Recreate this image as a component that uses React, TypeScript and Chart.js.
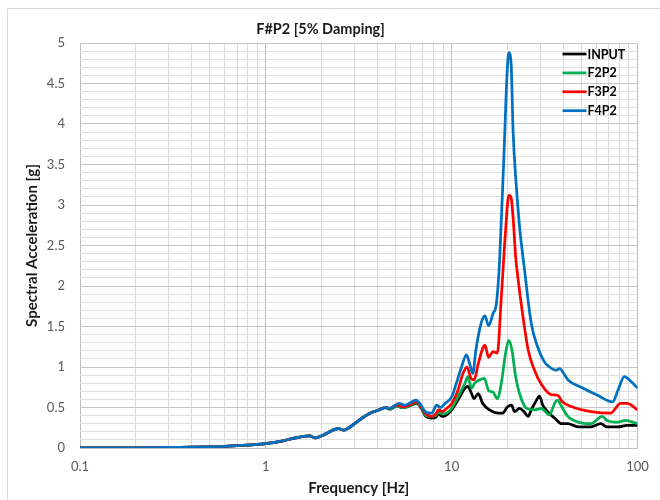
import React, { useEffect, useRef } from "react";
import { Chart, registerables } from "chart.js";

Chart.register(...registerables);

// ---- Data ----
const titleText = "F#P2 [5% Damping]";
const xTitle = "Frequency [Hz]";
const yTitle = "Spectral Acceleration [g]";

// Shared low-frequency part (all records coincide)
const baseFreq = [0.1, 0.15, 0.2, 0.26, 0.32, 0.4, 0.5, 0.6, 0.7, 0.8, 0.9, 1.0, 1.1, 1.22, 1.35, 1.45, 1.6, 1.72, 1.85, 2.0, 2.18, 2.35, 2.47, 2.63, 2.8, 3.04, 3.35, 3.73, 4.05, 4.4];
const baseAcc = [0.001, 0.002, 0.003, 0.005, 0.008, 0.011, 0.015, 0.021, 0.028, 0.036, 0.045, 0.055, 0.066, 0.085, 0.11, 0.125, 0.145, 0.15, 0.125, 0.15, 0.195, 0.23, 0.24, 0.22, 0.25, 0.31, 0.38, 0.44, 0.47, 0.5];

const inputFreq = [4.65, 5.08, 5.4, 5.8, 6.2, 6.5, 6.9, 7.2, 7.8, 8.2, 8.5, 8.9, 9.4, 10, 10.8, 11.5, 12.2, 12.8, 13.2, 13.9, 14.7, 16, 17.8, 18.8, 20, 21, 21.8, 23.2, 24.5, 25.8, 26.8, 28.6, 29.7, 30.9, 32.8, 35.8, 39.1, 42.2, 47.9, 56.2, 63.5, 68.5, 78.4, 88, 100];
const inputAcc = [0.48, 0.52, 0.5, 0.51, 0.54, 0.55, 0.48, 0.4, 0.37, 0.38, 0.42, 0.39, 0.41, 0.47, 0.59, 0.7, 0.76, 0.67, 0.61, 0.67, 0.55, 0.47, 0.43, 0.43, 0.51, 0.53, 0.45, 0.49, 0.45, 0.39, 0.47, 0.59, 0.64, 0.53, 0.45, 0.37, 0.3, 0.3, 0.26, 0.26, 0.3, 0.26, 0.26, 0.28, 0.28];

const f2p2Freq = [4.65, 5.08, 5.4, 5.8, 6.2, 6.5, 6.9, 7.2, 7.8, 8.2, 8.5, 8.9, 9.4, 10, 10.8, 11.8, 12.2, 12.8, 13.3, 14.1, 15, 15.8, 16.7, 17.6, 18.5, 19.5, 20.3, 21.1, 22.1, 23.2, 25.3, 27.9, 30.3, 33.6, 35.8, 37, 39.1, 42.2, 47.9, 56.2, 64.6, 68.5, 78.4, 86, 100];
const f2p2Acc = [0.48, 0.52, 0.5, 0.51, 0.55, 0.56, 0.49, 0.41, 0.39, 0.4, 0.44, 0.42, 0.43, 0.49, 0.63, 0.8, 0.88, 0.74, 0.8, 0.84, 0.86, 0.71, 0.69, 0.61, 0.8, 1.17, 1.33, 1.21, 0.88, 0.67, 0.49, 0.47, 0.49, 0.41, 0.55, 0.59, 0.51, 0.39, 0.32, 0.3, 0.39, 0.34, 0.32, 0.34, 0.3];

const f3p2Freq = [4.65, 5.08, 5.4, 5.8, 6.2, 6.5, 6.9, 7.2, 7.8, 8.2, 8.5, 8.9, 9.2, 10, 10.8, 11.5, 12.1, 12.7, 13.2, 13.9, 14.7, 15.1, 15.8, 16.7, 17.6, 18.5, 19.5, 20.3, 20.9, 21.4, 22.1, 22.7, 24.2, 25.8, 27.9, 30.5, 34.3, 37.3, 39.4, 44.4, 56.2, 71.7, 81.1, 88, 100];
const f3p2Acc = [0.49, 0.53, 0.51, 0.52, 0.56, 0.57, 0.5, 0.43, 0.39, 0.42, 0.47, 0.45, 0.47, 0.55, 0.71, 0.92, 1.0, 0.86, 0.84, 1.04, 1.23, 1.27, 1.12, 1.19, 1.17, 1.86, 2.68, 3.12, 3.09, 2.85, 2.36, 2.11, 1.62, 1.21, 0.96, 0.78, 0.66, 0.65, 0.57, 0.51, 0.45, 0.43, 0.55, 0.55, 0.47];

const f4p2Freq = [4.65, 5.2, 5.6, 6.0, 6.4, 6.8, 7.2, 7.8, 8.3, 8.7, 9.2, 10, 10.6, 11.3, 12.0, 12.5, 13.0, 13.5, 14.4, 15.1, 15.8, 16.7, 17.4, 18.1, 19.1, 19.9, 20.3, 20.9, 21.4, 22.3, 23.2, 24.7, 26.8, 29.1, 31.6, 33.6, 36.6, 38.1, 40.6, 42.3, 49.8, 61, 73.6, 78.4, 85, 92.4, 100];
const f4p2Acc = [0.49, 0.55, 0.53, 0.56, 0.59, 0.54, 0.45, 0.43, 0.53, 0.5, 0.55, 0.63, 0.8, 1.0, 1.15, 1.04, 0.92, 1.21, 1.54, 1.63, 1.51, 1.66, 1.78, 2.3, 3.6, 4.65, 4.88, 4.74, 3.92, 3.22, 2.73, 2.19, 1.54, 1.24, 1.06, 1.0, 0.96, 0.98, 0.9, 0.84, 0.75, 0.65, 0.57, 0.71, 0.88, 0.82, 0.74];

const seriesLabels = ["INPUT", "F2P2", "F3P2", "F4P2"];
const seriesColors = ["#000000", "#00b050", "#ff0000", "#0070c0"];

const xTickValues = [0.1, 0.2, 0.3, 0.4, 0.5, 0.6, 0.7, 0.8, 0.9, 1, 2, 3, 4, 5, 6, 7, 8, 9, 10, 20, 30, 40, 50, 60, 70, 80, 90, 100];
const xLabelValues = [0.1, 1, 10, 100];
const yMin = 0;
const yMax = 5;
const yGridStep = 0.1;
const yLabelStep = 0.5;

const FONT = 'Lato, "Open Sans", "Noto Sans", sans-serif';

function toPoints(fr: number[], ac: number[]) {
  return fr.map((f, i) => ({ x: f, y: ac[i] }));
}

const isYMajor = (v: number) => Math.abs(Math.round(v * 10) % 5) === 0;
const isXMajor = (v: number) => xLabelValues.some((d) => Math.abs(d - v) < 1e-9);

const bgPlugin = {
  id: "bgBorder",
  beforeDraw(chart: any) {
    const ctx = chart.ctx;
    ctx.save();
    ctx.fillStyle = "#ffffff";
    ctx.fillRect(0, 0, chart.width, chart.height);
    ctx.strokeStyle = "#d9d9d9";
    ctx.lineWidth = 1;
    ctx.beginPath();
    ctx.moveTo(7.5, chart.height);
    ctx.lineTo(7.5, 8.5);
    ctx.lineTo(chart.width, 8.5);
    ctx.stroke();
    ctx.restore();
  },
};

const legendPlugin = {
  id: "insideLegend",
  afterDraw(chart: any) {
    const ctx = chart.ctx;
    const area = chart.chartArea;
    ctx.save();
    const x0 = area.right - 75;
    const lineLen = 24;
    const y0 = area.top + 11;
    const gap = 18.9;
    ctx.font = `bold 12.5px ${FONT}`;
    ctx.textBaseline = "middle";
    ctx.textAlign = "left";
    chart.data.datasets.forEach((ds: any, i: number) => {
      const y = y0 + i * gap;
      ctx.strokeStyle = ds.borderColor;
      ctx.lineWidth = 2.75;
      ctx.beginPath();
      ctx.moveTo(x0, y);
      ctx.lineTo(x0 + lineLen, y);
      ctx.stroke();
      ctx.fillStyle = "#000000";
      ctx.fillText(ds.label, x0 + lineLen + 1, y + 0.5);
    });
    ctx.restore();
  },
};

export default function App() {
  const ref = useRef<HTMLCanvasElement | null>(null);

  useEffect(() => {
    if (!ref.current) return;
    const pairs: [number[], number[]][] = [
      [baseFreq.concat(inputFreq), baseAcc.concat(inputAcc)],
      [baseFreq.concat(f2p2Freq), baseAcc.concat(f2p2Acc)],
      [baseFreq.concat(f3p2Freq), baseAcc.concat(f3p2Acc)],
      [baseFreq.concat(f4p2Freq), baseAcc.concat(f4p2Acc)],
    ];
    const datasets = pairs.map((p, i) => ({
      label: seriesLabels[i],
      data: toPoints(p[0], p[1]),
      borderColor: seriesColors[i],
      backgroundColor: seriesColors[i],
      borderWidth: 2.75,
      pointRadius: 0,
      fill: false,
      tension: 0.4,
      cubicInterpolationMode: "monotone" as const,
      order: 3 - i,
    }));

    const chart = new Chart(ref.current, {
      type: "line",
      data: { datasets },
      plugins: [bgPlugin, legendPlugin],
      options: {
        responsive: false,
        animation: false,
        devicePixelRatio: 1,
        layout: { padding: { left: 0, right: 19, top: 0, bottom: 0 } },
        plugins: {
          legend: { display: false },
          tooltip: { enabled: false },
          title: {
            display: true,
            text: titleText,
            color: "#1a1a1a",
            font: { family: FONT, size: 14.5, weight: "bold", lineHeight: 1.2 },
            padding: { top: 20.3, bottom: 5.3 },
          },
        },
        scales: {
          x: {
            type: "logarithmic",
            min: 0.1,
            max: 100,
            afterBuildTicks: (scale: any) => {
              scale.ticks = xTickValues.map((v) => ({ value: v }));
            },
            afterFit: (scale: any) => {
              scale.height = 52;
            },
            ticks: {
              autoSkip: false,
              maxRotation: 0,
              minRotation: 0,
              padding: 11.2,
              color: "#595959",
              font: { family: FONT, size: 13 },
              callback: (value: any) => (isXMajor(Number(value)) ? String(Number(value)) : ""),
            },
            grid: {
              drawTicks: false,
              color: (c: any) => (c.tick && isXMajor(c.tick.value) ? "#bdbdbd" : "#dcdcdc"),
              lineWidth: 1,
            },
            border: { display: true, color: "#bfbfbf" },
            title: {
              display: true,
              text: xTitle,
              color: "#1a1a1a",
              font: { family: FONT, size: 15, weight: "bold", lineHeight: 1.2 },
              padding: { top: 0, bottom: 3 },
            },
          },
          y: {
            type: "linear",
            min: yMin,
            max: yMax,
            afterFit: (scale: any) => {
              scale.width = 80;
            },
            ticks: {
              stepSize: yGridStep,
              maxTicksLimit: 100,
              autoSkip: false,
              padding: 15,
              color: "#595959",
              font: { family: FONT, size: 13 },
              callback: (value: any) => {
                const v = Number(value);
                return isYMajor(v) ? String(Math.round(v / yLabelStep) * yLabelStep) : "";
              },
            },
            grid: {
              drawTicks: false,
              color: (c: any) => (c.tick && isYMajor(c.tick.value) ? "#c6c6c6" : "#e0e0e0"),
              lineWidth: 1,
            },
            border: { display: false },
            title: {
              display: true,
              text: yTitle,
              color: "#1a1a1a",
              font: { family: FONT, size: 15, weight: "bold", lineHeight: 1.2 },
              padding: { top: 23, bottom: 0 },
            },
          },
        },
      },
    } as any);

    return () => chart.destroy();
  }, []);

  return (
    <div style={{ position: "absolute", left: 0, top: 0, width: 660, height: 500 }}>
      <canvas ref={ref} width={660} height={500} style={{ display: "block" }} />
    </div>
  );
}
